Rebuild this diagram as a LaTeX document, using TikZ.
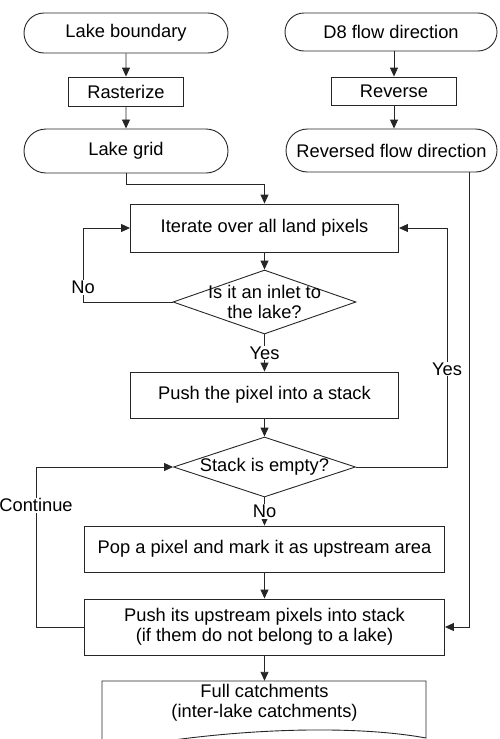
\documentclass[tikz,border=0pt]{standalone}
\usepackage{fontspec}
\setmainfont{Liberation Sans}
\usetikzlibrary{arrows.meta,shapes.geometric,shapes.misc}
\tikzset{
  flowfont/.style={font=\fontsize{18.3}{20.5}\selectfont},
  terminal/.style={draw=black!85, rounded rectangle, inner sep=0pt, line width=0.9pt, flowfont},
  process/.style={draw=black!85, rectangle, inner sep=0pt, line width=0.9pt, flowfont, align=center},
  decision/.style={draw=black!85, diamond, inner sep=0pt, line width=0.9pt},
  flowarrow/.style={-{Triangle[length=9pt,width=8pt]}, draw=black!85, line width=0.9pt},
  branch/.style={fill=white, inner sep=1pt, flowfont}
}

\begin{document}
\begin{tikzpicture}[x=1pt, y=-1pt]
  \useasboundingbox (0,0) rectangle (499,739);

  % Lake branch
  \node[terminal, minimum width=204pt, minimum height=40pt] (lakeb) at (126,33) {Lake boundary};
  \node[process, minimum width=115pt, minimum height=29pt] (raster) at (126,91.5) {Rasterize};
  \node[terminal, minimum width=204pt, minimum height=44pt] (lakeg) at (126,151) {Lake grid};

  % Flow direction branch
  \node[terminal, minimum width=212pt, minimum height=38pt] (d8) at (391,32) {D8 flow direction};
  \node[process, minimum width=125pt, minimum height=28pt] (rev) at (394,91) {Reverse};
  \node[terminal, minimum width=211pt, minimum height=43pt] (revflow) at (391.5,150.5) {Reversed flow direction};

  % Main loop
  \node[process, minimum width=268pt, minimum height=48pt] (iter) at (264.5,228) {Iterate over all land pixels};
  \node[decision, minimum width=183pt, minimum height=64pt] (inlet) at (264.5,302) {};
  \node[flowfont, align=center] (inlettxt) at (264.5,302) {Is it an inlet to\\the lake?};
  \node[process, minimum width=268pt, minimum height=46pt] (push) at (264.5,395) {Push the pixel into a stack};
  \node[decision, minimum width=182pt, minimum height=60pt] (empty) at (264.5,467) {};
  \node[flowfont] (emptytxt) at (264.5,467) {Stack is empty?};
  \node[process, minimum width=360pt, minimum height=46pt] (pop) at (264.5,549) {Pop a pixel and mark it as upstream area};
  \node[process, minimum width=360pt, minimum height=56pt] (pushup) at (264.5,627) {Push its upstream pixels into stack\\(if them do not belong to a lake)};

  % Output document
  \draw[draw=black!85, line width=0.9pt] (102,681) -- (426,681) -- (426,738)
    .. controls (350,724) and (220,728) .. (102,752) -- cycle;
  \node[flowfont, align=center, minimum width=324pt, minimum height=44pt, inner sep=0pt] (full) at (264.5,703) {Full catchments\\(inter-lake catchments)};

  % Connectors
  \draw[flowarrow] (lakeb) -- (raster);
  \draw[flowarrow] (raster) -- (lakeg);
  \draw[flowarrow] (d8.south -| rev) -- (rev);
  \draw[flowarrow] (rev) -- (revflow.north -| rev);
  \draw[flowarrow] (lakeg.south) -- ++(0,11) -| (iter.north);
  \draw[flowarrow] (iter) -- (inlet);
  \coordinate (noturn) at (83,302);
  \draw[flowarrow] (inlet.west) -- (noturn) |- node[branch, pos=0.1] {No} (iter.west);
  \draw[flowarrow] (inlet) -- node[branch] {Yes} (push);
  \draw[flowarrow] (push) -- (empty);
  \coordinate (yesturn) at (447,467);
  \draw[flowarrow] (empty.east) -- (yesturn) |- node[branch, pos=0.205] {Yes} (iter.east);
  \draw[flowarrow] (empty) -- node[branch] {No} (pop);
  \draw[flowarrow] (pop) -- (pushup);
  \coordinate (contturn) at (36,627);
  \draw[flowarrow] (pushup.west) -- (contturn) |- node[branch, pos=0.38] {Continue} (empty.west);
  \draw[flowarrow] ([xshift=77.5pt]revflow.south) |- (pushup.east);
  \draw[flowarrow] (pushup) -- (full.north);
\end{tikzpicture}
\end{document}
